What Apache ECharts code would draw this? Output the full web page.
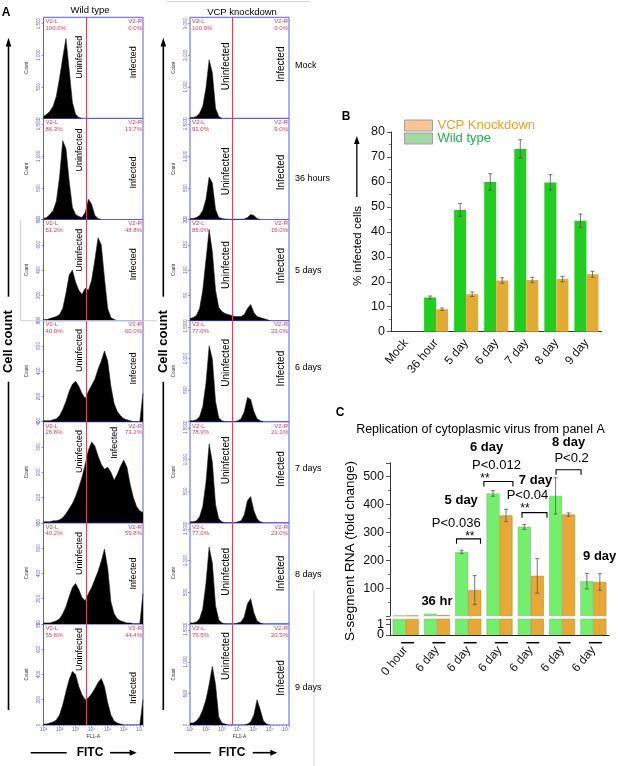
<!DOCTYPE html>
<html lang="en">
<head>
<meta charset="UTF-8">
<title>VCP knockdown infection</title>
<style>html,body{margin:0;padding:0;background:#fff;}</style>
</head>
<body>
<div id="main" style="width:620px;height:766px;"></div>
<script src="https://cdn.jsdelivr.net/npm/echarts@6/dist/echarts.min.js"></script>
<script>
// ---- panel A: flow histograms, counts per 0.2-decade bin of FL1-A starting at 10^1
var binStart = 1, binStep = 0.2, gate = 3.65;

var wtMock = [32, 64, 112, 192, 352, 640, 960, 1264, 768, 256, 64, 16, 0];
var wt36h = [16, 32, 80, 144, 288, 672, 1248, 1120, 608, 192, 80, 48, 32, 112, 320, 240, 64, 16, 0];
var wt5d = [8, 8, 16, 24, 32, 48, 96, 216, 360, 400, 304, 240, 208, 256, 240, 320, 480, 656, 600, 336, 96, 24, 8, 0];
var wt6d = [8, 8, 8, 16, 24, 48, 96, 160, 240, 296, 320, 280, 224, 184, 240, 288, 336, 416, 480, 560, 480, 280, 144, 80, 48, 24, 16, 8, 0, 0, 0, 224];
var wt7d = [4, 4, 4, 8, 8, 12, 20, 36, 56, 76, 104, 140, 180, 232, 288, 320, 304, 264, 232, 212, 220, 200, 168, 192, 224, 248, 220, 152, 100, 64, 48, 40];
var wt8d = [8, 8, 8, 16, 24, 40, 80, 136, 216, 288, 320, 272, 208, 184, 240, 288, 352, 416, 496, 592, 440, 176, 80, 40, 24, 16, 8, 8, 0, 0, 0, 240];
var wt9d = [8, 8, 16, 24, 40, 80, 160, 264, 360, 424, 400, 304, 240, 200, 216, 248, 288, 336, 368, 304, 176, 80, 32, 16, 8, 0, 0, 0, 0, 0, 0, 200];

var vcpMock = [32, 32, 64, 160, 384, 960, 1856, 1440, 320, 64, 0];
var vcp36h = [16, 16, 32, 64, 144, 320, 672, 576, 160, 32, 16, 8, 4, 4, 4, 4, 4, 8, 32, 80, 64, 16, 0];
var vcp5d = [4, 6, 10, 24, 60, 120, 180, 136, 60, 26, 18, 14, 12, 10, 8, 8, 8, 12, 24, 32, 16, 8, 6, 4, 2, 0];
var vcp6d = [16, 16, 32, 80, 240, 608, 1200, 992, 320, 64, 16, 0, 0, 0, 0, 16, 48, 160, 384, 352, 160, 48, 16, 0];
var vcp7d = [16, 16, 32, 96, 256, 640, 1248, 960, 288, 64, 16, 0, 0, 0, 0, 16, 32, 128, 352, 416, 192, 64, 16, 0];
var vcp8d = [16, 16, 32, 80, 240, 640, 1216, 960, 288, 64, 16, 0, 0, 0, 0, 16, 32, 112, 320, 400, 176, 48, 16, 0];
var vcp9d = [32, 32, 64, 128, 240, 400, 640, 928, 640, 128, 32, 16, 0, 0, 0, 0, 0, 0, 16, 48, 160, 400, 240, 64, 16, 0];

var wtYMax = [1600, 1600, 800, 800, 400, 800, 800];
var wtYStep = [500, 500, 200, 200, 100, 200, 200];
var vcpYMax = [3200, 1600, 200, 1600, 1600, 1600, 1600];
var vcpYStep = [1000, 500, 50, 500, 500, 500, 500];

var rowNames = ['Mock', '36 hours', '5 days', '6 days', '7 days', '8 days', '9 days'];
var wtLeftPct = ['100.0%', '86.3%', '51.2%', '40.0%', '26.8%', '40.2%', '55.6%'];
var wtRightPct = ['0.0%', '13.7%', '48.8%', '60.0%', '73.2%', '59.8%', '44.4%'];
var vcpLeftPct = ['100.0%', '91.0%', '85.0%', '77.0%', '78.9%', '77.0%', '79.5%'];
var vcpRightPct = ['0.0%', '9.0%', '15.0%', '23.0%', '21.1%', '23.0%', '20.5%'];

// ---- panel B: % infected cells
var daysB = ['Mock', '36 hour', '5 day', '6 day', '7 day', '8 day', '9 day'];
var wtInfected = [0, 13.7, 48.8, 60.0, 73.2, 59.8, 44.4];
var wtInfectedErr = [0, 0.6, 2.6, 3.3, 3.7, 3.1, 2.7];
var vcpInfected = [0, 9.0, 15.0, 20.5, 20.7, 21.1, 23.0];
var vcpInfectedErr = [0, 0.5, 0.9, 1.1, 1.1, 1.1, 1.2];

// ---- panel C: S-segment RNA fold change
var daysC = ['0 hour', '6 day', '6 day', '6 day', '6 day', '6 day', '6 day'];
var wtRna = [1.5, 8, 230, 440, 320, 431, 125];
var wtRnaErr = [0, 0, 6, 10, 9, 65, 28];
var vcpRna = [1.5, 3, 93, 361, 144, 364, 122];
var vcpRnaErr = [0, 0, 52, 22, 62, 6, 30];
var lowerTicksC = [0, 1];

// layout
var font = 'Liberation Sans, Arial, Helvetica, sans-serif';
var blue = '#5a5aee', red = '#e2405a';
var histLeft = [43.5, 190], histW = [99.5, 99], histTop0 = 17.3, histH = 101.1;
var wtUninY = [40, 31.7, 30.7, 30, 29.7, 30.7, 25.7];
var wtInfY = [45, 54, 44.7, 48, 21, 50.7, 64];
var wtInfX = [134, 134, 134, 134, 114.3, 134, 134];
var vcpUninY = [49, 53, 45.7, 42.3, 38.7, 49, 32.3];
var vcpInfY = [47, 54, 46.3, 48, 47.3, 50.7, 54];
var rowLabelY = [48, 59.7, 50.8, 47, 46.8, 52, 64];

var sup = {'0': '⁰', '1': '¹', '2': '²', '3': '³', '4': '⁴', '5': '⁵', '6': '⁶', '7': '⁷', '.': '·'};
function powLabel(v) {
  return '10' + String(+v.toFixed(1)).split('').map(function (c) { return sup[c] || c; }).join('');
}

var chart = echarts.init(document.getElementById('main'));
var grids = [], xAxes = [], yAxes = [], series = [];

function histPanel(counts, col, row, yMax, yStep) {
  var idx = grids.length;
  var bottomRow = row === 6;
  grids.push({
    left: histLeft[col], top: histTop0 + row * histH, width: histW[col], height: histH,
    show: true, borderColor: blue, borderWidth: 1, backgroundColor: 'transparent',
    containLabel: false, outerBoundsMode: 'none'
  });
  xAxes.push({
    gridIndex: idx, type: 'value', min: 1, max: 7.2, interval: 1,
    axisLine: { show: false }, splitLine: { show: false },
    axisTick: { show: bottomRow, length: 2, lineStyle: { color: blue, width: 0.6 } },
    minorTick: { show: bottomRow, splitNumber: 5, length: 1.2, lineStyle: { color: blue, width: 0.5 } },
    axisLabel: { show: bottomRow, fontSize: 5, color: blue, margin: 2, formatter: powLabel, hideOverlap: false },
    name: bottomRow ? 'FL1-A' : '', nameLocation: 'middle', nameGap: 9,
    nameTextStyle: { fontSize: 5, color: '#333' }
  });
  yAxes.push({
    gridIndex: idx, type: 'value', min: 0, max: yMax, interval: yStep,
    axisLine: { show: false }, splitLine: { show: false },
    axisTick: { show: true, length: 2, lineStyle: { color: blue, width: 0.6 } },
    axisLabel: { fontSize: 4.5, color: blue, rotate: 90, margin: 2, hideOverlap: false,
      formatter: function (v) { return v.toLocaleString('en-US'); } },
    name: 'Count', nameLocation: 'middle', nameGap: 14,
    nameTextStyle: { fontSize: 4.5, color: '#333' }
  });
  series.push({
    type: 'line', xAxisIndex: idx, yAxisIndex: idx, silent: true,
    data: counts.map(function (c, i) { return [+(binStart + i * binStep).toFixed(1), c]; }),
    symbol: 'none', lineStyle: { color: '#222', width: 0.6 },
    areaStyle: { color: '#000', opacity: 1 },
    markLine: { silent: true, symbol: 'none', label: { show: false },
      lineStyle: { color: red, width: 1, type: 'solid' }, data: [{ xAxis: gate }] }
  });
}

var wtSets = [wtMock, wt36h, wt5d, wt6d, wt7d, wt8d, wt9d];
var vcpSets = [vcpMock, vcp36h, vcp5d, vcp6d, vcp7d, vcp8d, vcp9d];
wtSets.forEach(function (d, r) { histPanel(d, 0, r, wtYMax[r], wtYStep[r]); });
vcpSets.forEach(function (d, r) { histPanel(d, 1, r, vcpYMax[r], vcpYStep[r]); });

// error bar renderer for two grouped bars (barGap 0)
function errRender(side, catGap) {
  return function (params, api) {
    var i = api.value(0), lo = api.value(1), hi = api.value(2);
    var band = api.size([1, 0])[0];
    var barW = band * (1 - catGap) / 2;
    var x = api.coord([i, 0])[0] + side * barW / 2;
    var yLo = api.coord([i, lo])[1], yHi = api.coord([i, hi])[1];
    var st = { stroke: '#555', lineWidth: 0.8 };
    return { type: 'group', children: [
      { type: 'line', shape: { x1: x, y1: yLo, x2: x, y2: yHi }, style: st },
      { type: 'line', shape: { x1: x - 2, y1: yHi, x2: x + 2, y2: yHi }, style: st },
      { type: 'line', shape: { x1: x - 2, y1: yLo, x2: x + 2, y2: yLo }, style: st }
    ] };
  };
}
function errData(vals, errs) {
  var out = [];
  vals.forEach(function (v, i) { if (errs[i] > 0) out.push([i, v - errs[i], v + errs[i]]); });
  return out;
}

// ---- panel B (grid 14)
grids.push({ left: 391, top: 132, width: 210.5, height: 199.7, containLabel: false, outerBoundsMode: 'none' });
xAxes.push({
  gridIndex: 14, type: 'category', data: daysB,
  axisLine: { lineStyle: { color: '#333', width: 1 } },
  axisTick: { alignWithLabel: true, length: 3, lineStyle: { color: '#666' } },
  axisLabel: { rotate: 50, fontSize: 12, color: '#111', margin: 9, interval: 0, hideOverlap: false }
});
yAxes.push({
  gridIndex: 14, type: 'value', min: 0, max: 80, interval: 10,
  axisLine: { show: true, lineStyle: { color: '#333', width: 1 } },
  axisTick: { show: true, length: 4, lineStyle: { color: '#555' } },
  minorTick: { show: true, splitNumber: 2, length: 2, lineStyle: { color: '#777' } },
  splitLine: { show: false },
  axisLabel: { fontSize: 12.5, color: '#111', margin: 6, hideOverlap: false }
});
series.push({
  name: 'Wild type', type: 'bar', xAxisIndex: 14, yAxisIndex: 14, data: wtInfected,
  barGap: 0, barCategoryGap: '20%', itemStyle: { color: '#1fce1f' }
});
series.push({
  name: 'VCP Knockdown', type: 'bar', xAxisIndex: 14, yAxisIndex: 14, data: vcpInfected,
  barGap: 0, barCategoryGap: '20%', itemStyle: { color: '#e3ab31' }
});
series.push({ type: 'custom', xAxisIndex: 14, yAxisIndex: 14, z: 5, silent: true,
  renderItem: errRender(-1, 0.2), encode: { x: 0, y: [1, 2] }, data: errData(wtInfected, wtInfectedErr) });
series.push({ type: 'custom', xAxisIndex: 14, yAxisIndex: 14, z: 5, silent: true,
  renderItem: errRender(1, 0.2), encode: { x: 0, y: [1, 2] }, data: errData(vcpInfected, vcpInfectedErr) });

// ---- panel C: upper (15) and lower (16) parts of a broken axis
grids.push({ left: 390, top: 462.8, width: 219, height: 153.2, containLabel: false, outerBoundsMode: 'none' });
grids.push({ left: 390, top: 619, width: 219, height: 16, containLabel: false, outerBoundsMode: 'none' });
xAxes.push({ gridIndex: 15, type: 'category', data: daysC, show: false });
xAxes.push({
  gridIndex: 16, type: 'category', data: daysC,
  axisLine: { lineStyle: { color: '#222', width: 1 } }, axisTick: { show: false },
  axisLabel: { rotate: 50, fontSize: 12, color: '#111', margin: 13, interval: 0, hideOverlap: false }
});
var cAxisCommon = {
  type: 'value', splitLine: { show: false },
  axisLine: { show: true, lineStyle: { color: '#333', width: 1 } },
  axisTick: { show: true, length: 4, lineStyle: { color: '#555' } }
};
yAxes.push(Object.assign({}, cAxisCommon, {
  gridIndex: 15, min: 0, max: 550, interval: 100,
  minorTick: { show: true, splitNumber: 2, length: 2, lineStyle: { color: '#777' } },
  axisLabel: { fontSize: 12.5, color: '#111', margin: 6, hideOverlap: false,
    formatter: function (v) { return v > 0 && v % 100 === 0 ? String(v) : ''; } }
}));
yAxes.push(Object.assign({}, cAxisCommon, {
  gridIndex: 16, min: 0, max: 1.5, interval: 1,
  axisLabel: { show: false }
}));
[15, 16].forEach(function (gi) {
  series.push({ type: 'bar', xAxisIndex: gi, yAxisIndex: gi, data: wtRna, barGap: 0, barCategoryGap: '17%',
    clip: true, itemStyle: { color: '#72f06c', borderColor: '#8aa88a', borderWidth: 0.5 } });
  series.push({ type: 'bar', xAxisIndex: gi, yAxisIndex: gi, data: vcpRna, barGap: 0, barCategoryGap: '17%',
    clip: true, itemStyle: { color: '#e8a934', borderColor: '#a08040', borderWidth: 0.5 } });
});
series.push({ type: 'custom', xAxisIndex: 15, yAxisIndex: 15, z: 5, silent: true,
  renderItem: errRender(-1, 0.17), encode: { x: 0, y: [1, 2] }, data: errData(wtRna, wtRnaErr) });
series.push({ type: 'custom', xAxisIndex: 15, yAxisIndex: 15, z: 5, silent: true,
  renderItem: errRender(1, 0.17), encode: { x: 0, y: [1, 2] }, data: errData(vcpRna, vcpRnaErr) });

chart.setOption({
  animation: false,
  textStyle: { fontFamily: font },
  grid: grids,
  xAxis: xAxes,
  yAxis: yAxes,
  legend: {
    left: 399, top: 114, orient: 'vertical', itemGap: 0, itemWidth: 28, itemHeight: 11,
    selectedMode: false, textStyle: { fontSize: 13, lineHeight: 12 },
    data: [
      { name: 'VCP Knockdown', icon: 'rect', itemStyle: { color: '#f9c596', borderColor: '#a0a0a0', borderWidth: 1 },
        textStyle: { color: '#f0a31c', fontSize: 13 } },
      { name: 'Wild type', icon: 'rect', itemStyle: { color: '#a3d9a3', borderColor: '#a0a0a0', borderWidth: 1 },
        textStyle: { color: '#1fae55', fontSize: 13 } }
    ]
  },
  series: series
});

// ---- text and decorations
var g = [];
function txt(x, y, s, size, o) {
  o = o || {};
  var al = o.align || 'center', va = o.valign || 'middle';
  return { type: 'text', x: x, y: y, rotation: o.rot || 0, silent: true, z: 50,
    style: { text: s, fontSize: size, fontFamily: font, fontWeight: o.bold ? 'bold' : 'normal',
      fill: o.color || '#000', align: al, verticalAlign: va, textAlign: al, textVerticalAlign: va } };
}
function ln(x1, y1, x2, y2, w, c) {
  return { type: 'line', silent: true, z: 50, shape: { x1: x1, y1: y1, x2: x2, y2: y2 },
    style: { stroke: c || '#000', lineWidth: w || 1 } };
}
function tri(p) {
  return { type: 'polygon', silent: true, z: 50, shape: { points: p }, style: { fill: '#000' } };
}
var up = Math.PI / 2;

g.push(txt(6, 13, 'A', 12, { bold: true }));
g.push(txt(90, 10, 'Wild type', 9.5));
g.push(txt(242, 12.7, 'VCP knockdown', 9.5));
g.push(ln(166.7, 1.5, 310, 1.5, 1, '#d4d4d4'));
g.push(ln(20.7, 220, 20.7, 320.7, 1, '#d0d0d0'));
g.push(ln(20.7, 320.7, 157, 320.7, 1, '#d0d0d0'));
g.push(ln(314, 590, 314, 766, 1, '#dcdcdc'));

for (var r = 0; r < 7; r++) {
  var rowTop = histTop0 + r * histH;
  [0, 1].forEach(function (c) {
    var left = histLeft[c], right = left + histW[c];
    var pl = c ? vcpLeftPct[r] : wtLeftPct[r], pr = c ? vcpRightPct[r] : wtRightPct[r];
    g.push(txt(left + 2, rowTop + 4.2, 'V2-L', 6, { align: 'left', color: red }));
    g.push(txt(left + 2, rowTop + 11, pl, 6, { align: 'left', color: red }));
    g.push(txt(right - 1, rowTop + 4.2, 'V2-R', 6, { align: 'right', color: red }));
    g.push(txt(right - 1, rowTop + 11, pr, 6, { align: 'right', color: red }));
  });
  g.push(txt(79.5, rowTop + wtUninY[r], 'Uninfected', 9, { rot: up }));
  g.push(txt(wtInfX[r], rowTop + wtInfY[r], 'Infected', 9, { rot: up }));
  g.push(txt(226, rowTop + vcpUninY[r], 'Uninfected', 10, { rot: up }));
  g.push(txt(281, rowTop + vcpInfY[r], 'Infected', 10, { rot: up }));
  g.push(txt(295, rowTop + rowLabelY[r], rowNames[r], 9, { align: 'left' }));
}

[8.5, 163.3].forEach(function (x) {
  g.push(ln(x, 710, x, 381.7, 1.6));
  g.push(ln(x, 296.7, x, 45, 1.6));
  g.push(tri([[x, 37.7], [x - 2.8, 46.5], [x + 2.8, 46.5]]));
  g.push(txt(x, 341.7, 'Cell count', 13, { bold: true, rot: up }));
});
[[30.7, 66.7, 90, 110, 136.7], [174, 210.7, 232, 252.7, 277.3]].forEach(function (p) {
  var y = 752.7;
  g.push(ln(p[0], y, p[1], y, 1.6));
  g.push(txt(p[2], y, 'FITC', 12, { bold: true }));
  g.push(ln(p[3], y, p[4] - 5, y, 1.6));
  g.push(tri([[p[4], y], [p[4] - 7, y - 3], [p[4] - 7, y + 3]]));
});

// panel B labels
g.push(txt(346, 117, 'B', 12, { bold: true }));
g.push(ln(356.8, 197, 356.8, 143, 1.3));
g.push(tri([[356.8, 136], [354, 144], [359.6, 144]]));
g.push(txt(357.5, 246, '% infected cells', 11.5, { rot: up }));

// panel C labels
g.push(txt(340, 413, 'C', 12, { bold: true }));
g.push(txt(480.5, 430, 'Replication of cytoplasmic virus from panel A', 12.5));
g.push(txt(350, 551, 'S-segment RNA (fold change)', 13.5, { rot: up }));

// lower broken-axis tick labels, placed from the axis scale
lowerTicksC.forEach(function (v) {
  var p = chart.convertToPixel({ gridIndex: 16 }, [0, v]);
  g.push(txt(390 - 6, p[1], String(v), 12.5, { align: 'right' }));
});

// annotations: [text, category, value on upper axis, x shift px, bold]
var notesC = [
  ['36 hr', 1, 52, 0, true],
  ['5 day', 2, 414, -7, true],
  ['P<0.036', 2, 331, -12, false],
  ['**', 2, 285, 1.6, false],
  ['6 day', 3, 604, -13, true],
  ['P<0.012', 3, 539, -3, false],
  ['**', 3, 493, -14.6, false],
  ['7 day', 4, 487, 4.7, true],
  ['P<0.04', 4, 432, -3.3, false],
  ['**', 4, 385, -5.8, false],
  ['8 day', 5, 622, 6.5, true],
  ['P<0.2', 5, 565, 9.5, false],
  ['9 day', 6, 214, 6.3, true]
];
// brackets: [category, value, x shift px, width px]
var bracketsC = [[2, 277, 0.3, 24], [3, 483, -1.1, 29], [4, 371, 3.7, 25], [5, 525, 6.5, 25]];

notesC.forEach(function (n) {
  var p = chart.convertToPixel({ gridIndex: 15 }, [n[1], n[2]]);
  g.push(txt(p[0] + n[3], p[1], n[0], n[0] === '**' ? 12 : 13, { bold: n[4] }));
});
bracketsC.forEach(function (b) {
  var p = chart.convertToPixel({ gridIndex: 15 }, [b[0], b[1]]);
  var cx = p[0] + b[2], h = b[3] / 2;
  g.push({ type: 'polyline', silent: true, z: 50,
    shape: { points: [[cx - h, p[1] + 5], [cx - h, p[1]], [cx + h, p[1]], [cx + h, p[1] + 5]] },
    style: { stroke: '#000', lineWidth: 1.1, fill: null } });
});
daysC.forEach(function (d, i) {
  var p = chart.convertToPixel({ gridIndex: 16 }, [i, 0]);
  g.push(ln(p[0] - 4.5, p[1] + 7.7, p[0] + 8.5, p[1] + 7.7, 1.5));
});

chart.setOption({ graphic: { elements: g } });
</script>
</body>
</html>
